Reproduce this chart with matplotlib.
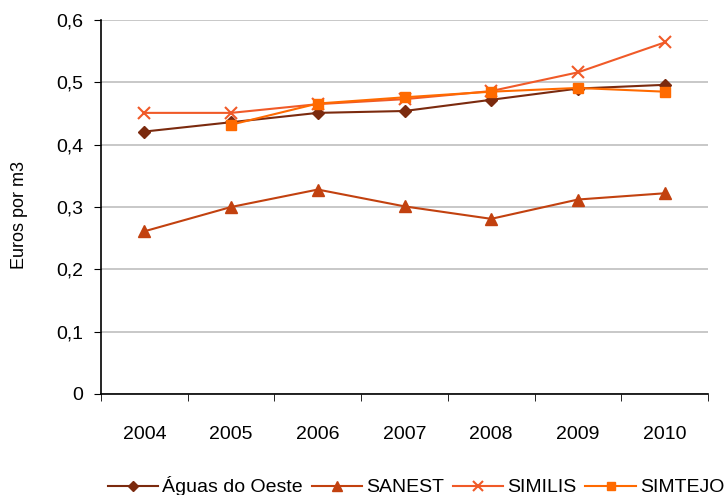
import matplotlib
matplotlib.use("Agg")
import matplotlib.pyplot as plt
import numpy as np

plt.rcParams["font.family"] = ["Liberation Sans", "DejaVu Sans"]

anos = ["2004", "2005", "2006", "2007", "2008", "2009", "2010"]
aguas_oeste = [0.421, 0.436, 0.451, 0.454, 0.472, 0.490, 0.496]
sanest = [0.261, 0.300, 0.328, 0.301, 0.281, 0.312, 0.322]
similis = [0.451, 0.451, 0.465, 0.473, 0.486, 0.516, 0.564]
simtejo = [None, 0.432, 0.466, 0.476, 0.485, 0.491, 0.485]

x = np.arange(len(anos))
simtejo_y = np.array([np.nan if v is None else v for v in simtejo])

fig = plt.figure(figsize=(7.28, 4.95), dpi=100)
ax = fig.add_axes([101 / 728, 1 - 394 / 495, 607 / 728, 374 / 495])

ax.plot(x, aguas_oeste, color="#7B2A0E", lw=1.5, marker="D", ms=6.5, label="Águas do Oeste")
ax.plot(x, sanest, color="#C2410F", lw=1.5, marker="^", ms=8.5, label="SANEST")
ax.plot(x, similis, color="#F05A28", lw=1.5, marker="x", ms=8.5, mew=1.5, label="SIMILIS")
ax.plot(x, simtejo_y, color="#FF6A00", lw=1.5, marker="s", ms=7.5, label="SIMTEJO")

ax.set_xlim(-0.5, len(anos) - 0.5)
ax.set_ylim(0, 0.6)
ax.set_yticks(np.arange(0, 0.61, 0.1))
ax.set_yticklabels(["0", "0,1", "0,2", "0,3", "0,4", "0,5", "0,6"])
ax.set_xticks(x)
ax.set_xticklabels(anos)
ax.set_xticks(np.arange(-0.5, len(anos)), minor=True)
ax.tick_params(axis="x", which="major", length=0, pad=23, labelsize=14)
ax.tick_params(axis="x", which="minor", length=5, direction="out")
ax.tick_params(axis="y", length=5, direction="out", labelsize=14, pad=8)

ax.yaxis.grid(True, color="#BFBFBF", lw=1.2)
ax.set_axisbelow(True)
for s in ["top", "right"]:
    ax.spines[s].set_visible(False)
ax.spines["left"].set_linewidth(1.2)
ax.spines["bottom"].set_linewidth(1.2)

ax.set_ylabel("Euros por m3", fontsize=13)
ax.yaxis.set_label_coords(-0.12, 0.479)

ax.legend(loc="center", bbox_to_anchor=(0.519, -0.247), ncol=4, frameon=False,
          fontsize=14, handlelength=2.6, handletextpad=0.2, columnspacing=0.45,
          markerscale=0.8, borderaxespad=0, borderpad=0)

fig.savefig("out.png", dpi=100)
